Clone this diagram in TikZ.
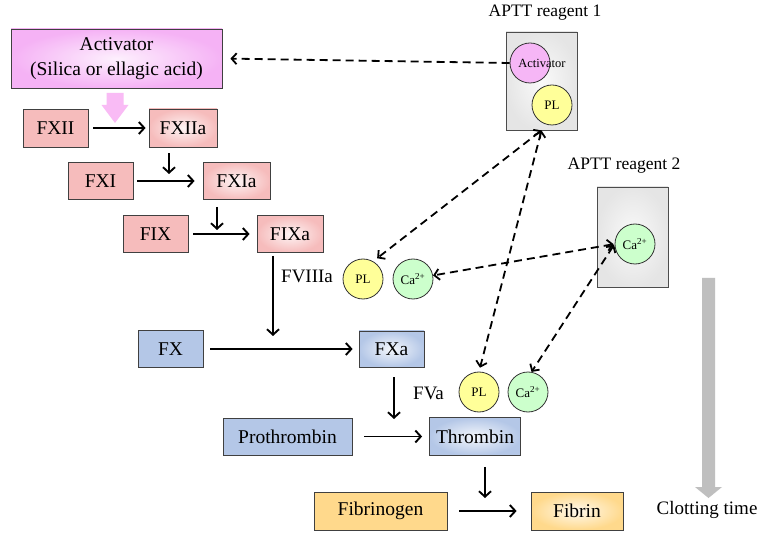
\documentclass[tikz,border=0pt]{standalone}
\usepackage{fontspec}
\setmainfont{Liberation Serif}
\usetikzlibrary{arrows.meta}
\definecolor{pinkbox}{RGB}{246,188,188}
\definecolor{bluebox}{RGB}{180,199,231}
\definecolor{yellowbox}{RGB}{255,217,140}
\definecolor{violetbox}{RGB}{245,178,245}
\definecolor{actcirc}{RGB}{246,182,246}
\definecolor{plcirc}{RGB}{255,255,153}
\definecolor{cacirc}{RGB}{204,255,204}
\definecolor{grayarrow}{RGB}{191,191,191}
\definecolor{pinkarrow}{RGB}{249,187,245}
\begin{document}
\begin{tikzpicture}[x=1pt,y=-1pt,
  box/.style={draw=black!75, line width=0.8pt, inner sep=0pt, font=\fontsize{19.5}{25}\selectfont, align=center},
  pinkflat/.style={box, fill=pinkbox},
  pinkshade/.style={box, inner color=pinkbox!15!white, outer color=pinkbox},
  blueflat/.style={box, fill=bluebox},
  blueshade/.style={box, inner color=bluebox!15!white, outer color=bluebox},
  yellowflat/.style={box, fill=yellowbox},
  yellowshade/.style={box, inner color=yellowbox!15!white, outer color=yellowbox},
  actbox/.style={box, inner color=violetbox!20!white, outer color=violetbox},
  rbox/.style={draw=black!70, line width=0.8pt, inner sep=0pt, inner color=black!2, outer color=black!10},
  circ/.style={circle, draw=black!80, line width=0.8pt, minimum size=40pt, inner sep=0pt, font=\fontsize{13}{15}\selectfont},
  lab/.style={inner sep=0pt, font=\fontsize{19}{21}\selectfont},
  lab2/.style={inner sep=0pt, font=\fontsize{17.5}{20}\selectfont},
  arr/.style={line width=1.9pt, -{Straight Barb[length=5.5pt,width=12pt]}},
  darr/.style={line width=1.8pt, dash pattern=on 8pt off 5pt, -{Straight Barb[length=5pt,width=11pt]}},
  ddarr/.style={line width=1.8pt, dash pattern=on 8pt off 5pt, {Straight Barb[length=5pt,width=11pt]}-{Straight Barb[length=5pt,width=11pt]}}
]
\useasboundingbox (0,0) rectangle (768,534);
\fill[white] (0,0) rectangle (768,534);

% cascade boxes
\node[actbox, minimum width=211pt, minimum height=59pt] (act) at (116.5,58.5) {Activator\\(Silica or ellagic acid)};
\node[pinkflat, minimum width=65pt, minimum height=38pt] (fxii) at (55.5,128) {FXII};
\node[pinkshade, minimum width=68pt, minimum height=38pt] (fxiia) at (183,128) {FXIIa};
\node[pinkflat, minimum width=65pt, minimum height=37pt] (fxi) at (100.5,181) {FXI};
\node[pinkshade, minimum width=67pt, minimum height=37pt] (fxia) at (236.5,181) {FXIa};
\node[pinkflat, minimum width=65pt, minimum height=37pt] (fix) at (155.5,234) {FIX};
\node[pinkshade, minimum width=66pt, minimum height=37pt] (fixa) at (290,234) {FIXa};
\node[blueflat, minimum width=65pt, minimum height=37pt] (fx) at (170.5,349) {FX};
\node[blueshade, minimum width=65pt, minimum height=36pt] (fxa) at (391.5,349) {FXa};
\node[blueflat, minimum width=129pt, minimum height=37pt] (pro) at (287.5,436.5) {Prothrombin};
\node[blueshade, minimum width=91pt, minimum height=38pt] (thr) at (475,436.5) {Thrombin};
\node[yellowflat, minimum width=133pt, minimum height=38pt] (fbg) at (380.5,511) {Fibrinogen};
\node[yellowshade, minimum width=92pt, minimum height=38pt] (fbn) at (577,511) {Fibrin};

% pink fat arrow
\fill[pinkarrow] (106.5,93) -- (123.5,93) -- (123.5,105) -- (128.5,105) -- (115,123) -- (101.5,105) -- (106.5,105) -- cycle;

% horizontal arrows
\draw[arr, shorten <=5pt, shorten >=3pt] (fxii) -- (fxiia);
\draw[arr, shorten <=4pt, shorten >=8pt] (fxi) -- (fxia);
\draw[arr, shorten <=5pt, shorten >=7pt] (fix) -- (fixa);
\draw[arr, shorten <=7pt, shorten >=6pt] (fx) -- (fxa);
\draw[arr, shorten <=12pt, shorten >=7pt] (pro) -- (thr);
\draw[arr, shorten <=12pt, shorten >=14pt] (fbg) -- (fbn);

% vertical arrows
\coordinate (j1) at (169,174);
\coordinate (j2) at (217,230);
\coordinate (j3) at (273,336);
\coordinate (j4) at (394,419);
\coordinate (j5) at (485,498);
\draw[arr, shorten <=6pt] (fxiia.south -| j1) -- (j1);
\draw[arr, shorten <=7pt] (fxia.south -| j2) -- (j2);
\draw[arr, shorten <=3pt] (fixa.south -| j3) -- (j3);
\draw[arr, shorten <=10pt] (fxa.south -| j4) -- (j4);
\draw[arr, shorten <=11pt] (thr.south -| j5) -- (j5);

% cofactor labels
\node[lab, anchor=west] (f8) at (281,276) {FVIIIa};
\node[lab, anchor=west] (f5) at (413,393) {FVa};

% circles on the cascade
\node[circ, fill=plcirc] (pl1) at (363,279) {PL};
\node[circ, fill=cacirc] (ca1) at (413,279) {Ca\textsuperscript{2+}};
\node[circ, fill=plcirc] (pl2) at (479,392) {PL};
\node[circ, fill=cacirc] (ca2) at (528,392) {Ca\textsuperscript{2+}};

% reagent 1
\node[lab2] (r1l) at (545,13) {APTT reagent 1};
\node[rbox, minimum width=71pt, minimum height=98pt] (r1) at (541.5,81) {};
\node[circ, fill=actcirc] (ra) at (530,63) {};
\node[inner sep=0pt, font=\fontsize{12.5}{14}\selectfont] (ratext) at (542,63) {Activator};
\node[circ, fill=plcirc] (rpl) at (552,105) {PL};

% reagent 2
\node[lab2] (r2l) at (624,166) {APTT reagent 2};
\node[rbox, minimum width=71pt, minimum height=100pt] (r2) at (632.5,237) {};
\node[circ, fill=cacirc] (rca) at (635,244) {Ca\textsuperscript{2+}};

% dashed connectors
\draw[darr, shorten >=8pt] (ra.west) -- (act.east);
\draw[ddarr, shorten >=5pt] (r1.south) -- (pl1.60);
\draw[ddarr, shorten >=4pt] (r1.south) -- (pl2.north);
\draw[ddarr, shorten <=1pt] (rca.west) -- (ca1.10);
\draw[ddarr, shorten <=1pt] (rca.west) -- (ca2.80);

% clotting time arrow
\fill[grayarrow] (702,278) -- (715,278) -- (715,487) -- (722,487) -- (708.5,498) -- (695,487) -- (702,487) -- cycle;
\node[inner sep=0pt, font=\fontsize{19}{21}\selectfont] (ct) at (707,510) {Clotting time};
\end{tikzpicture}
\end{document}
